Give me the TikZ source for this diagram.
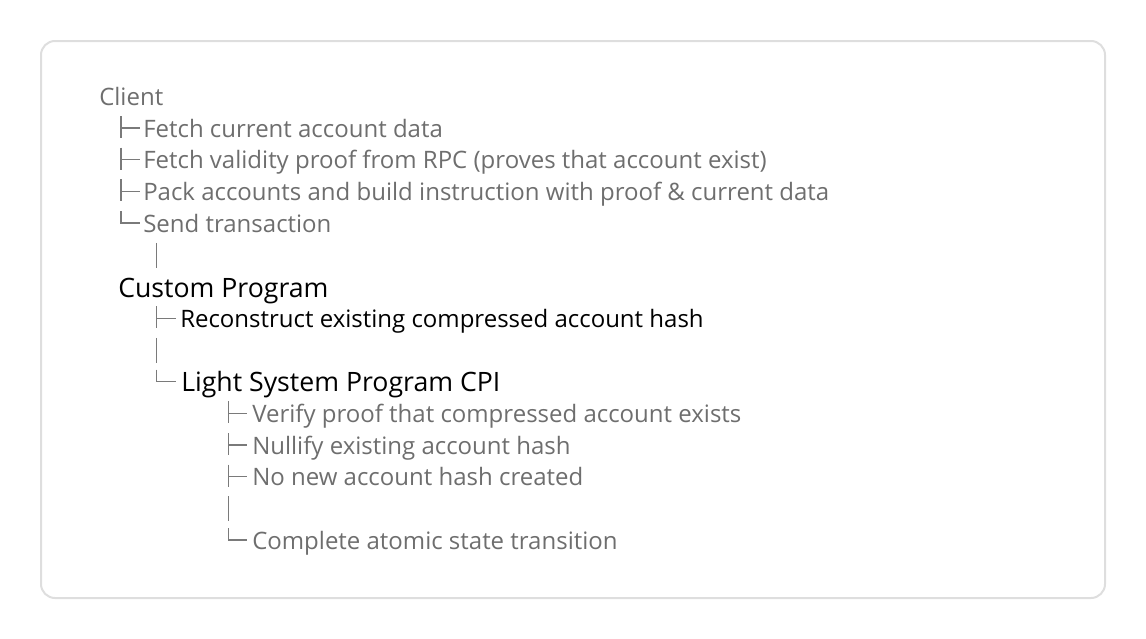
\documentclass[tikz,border=0pt]{standalone}
\usepackage{fontspec}
\setmainfont{Open Sans}
\definecolor{txtgray}{HTML}{6E6E6E}
\definecolor{linegray}{HTML}{7A7A7A}
\definecolor{framegray}{HTML}{DEDEDE}
\newcommand\treetee[2]{\draw[treeline] (#1,#2-12) -- (#1,#2+10) (#1,#2) -- (#1+19,#2);}
\newcommand\treeend[2]{\draw[treeline] (#1,#2-12) -- (#1,#2) -- (#1+19,#2);}
\newcommand\treebar[2]{\draw[treeline] (#1,#2-12) -- (#1,#2+13);}
\begin{document}
\begin{tikzpicture}[x=0.75pt,y=-0.75pt,
  item/.style={anchor=base west,inner sep=0pt,text=txtgray,
    font=\fontsize{18}{22}\selectfont},
  step item/.style={item,text=black},
  head/.style={item,text=black,font=\fontsize{20}{24}\selectfont},
  treeline/.style={draw=linegray,line width=1pt}]
  \useasboundingbox (0,0) rectangle (1146,639);
  \draw[framegray,line width=1.5pt,rounded corners=10.5pt] (41,41) rectangle (1105,598);

  % client side
  \node[item] (client) at (99,105.3) {Client};
  \node[item] (fetchdata) at (143,137) {Fetch current account data};
  \node[item] (fetchproof) at (143,168.7) {Fetch validity proof from RPC (proves that account exist)};
  \node[item] (pack) at (143,200.4) {Pack accounts and build instruction with proof \& current data};
  \node[item] (send) at (143,232.1) {Send transaction};
  \treetee{121}{128.0}
  \treetee{121}{159.7}
  \treetee{121}{191.4}
  \treeend{121}{223.1}
  \treebar{156.7}{254.8}

  % custom program
  \node[head] (custom) at (118,297.5) {Custom Program};
  \node[step item] (rebuild) at (180,327.2) {Reconstruct existing compressed account hash};
  \node[head] (lsp) at (181,391.5) {Light System Program CPI};
  \treetee{156.7}{318.2}
  \treebar{156.7}{349.9}
  \treeend{156.7}{381.6}

  % light system program
  \node[item] (verify) at (252,422.3) {Verify proof that compressed account exists};
  \node[item] (nullify) at (252,454) {Nullify existing account hash};
  \node[item] (nonew) at (252,485.7) {No new account hash created};
  \node[item] (done) at (252,549.1) {Complete atomic state transition};
  \treetee{228.3}{413.3}
  \treetee{228.3}{445.0}
  \treetee{228.3}{476.7}
  \treebar{228.3}{508.4}
  \treeend{228.3}{540.1}
\end{tikzpicture}
\end{document}
